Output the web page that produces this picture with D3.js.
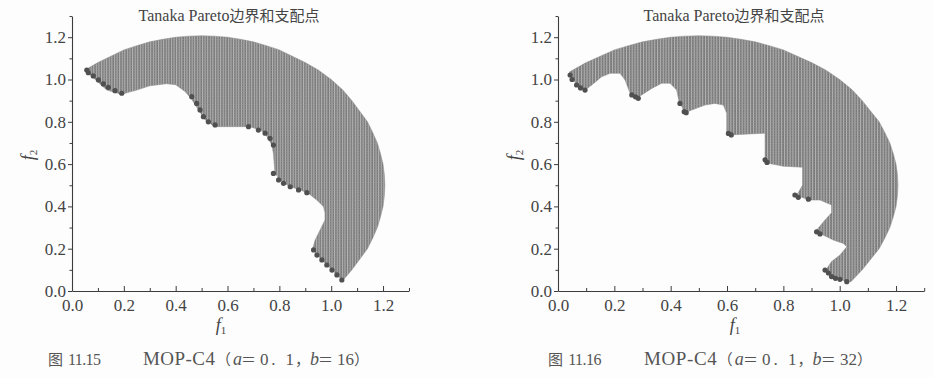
<!DOCTYPE html>
<html>
<head>
<meta charset="utf-8">
<script src="https://cdn.jsdelivr.net/npm/d3@7"></script>
<style>
  html, body { margin: 0; padding: 0; background: #fdfdfd; }
  svg { display: block; }
</style>
</head>
<body>
<svg id="chart" width="934" height="378"></svg>
<script>
// ---------- data ----------
const majorTicks = [0, 0.2, 0.4, 0.6, 0.8, 1.0, 1.2];
const minorTicks = [0.1, 0.3, 0.5, 0.7, 0.9, 1.1, 1.3];
const tickLabels = ["0.0", "0.2", "0.4", "0.6", "0.8", "1.0", "1.2"];

const titleLatin = "Tanaka Pareto";
const titleCJK = "边界和支配点";
const captionLeft = ["图", "11.15", "MOP-C4", "（", "a", "＝", "0. 1", "，", "b", "＝", "16", "）"];
const captionRight = ["图", "11.16", "MOP-C4", "（", "a", "＝", "0. 1", "，", "b", "＝", "32", "）"];

// outer edge of the feasible region (top-left tip, clockwise, to bottom tip)
const outerLeft = [
  [0.05,1.045],[0.1,1.08],[0.15,1.11],[0.2,1.14],[0.25,1.16],[0.3,1.178],[0.35,1.19],
  [0.4,1.2],[0.45,1.205],[0.5,1.207],[0.55,1.205],[0.6,1.2],[0.65,1.19],[0.7,1.178],
  [0.75,1.16],[0.8,1.14],[0.85,1.11],[0.9,1.08],[0.95,1.045],[1.0,1.0],[1.045,0.95],
  [1.08,0.9],[1.11,0.85],[1.14,0.8],[1.16,0.75],[1.178,0.7],[1.19,0.65],[1.2,0.6],
  [1.205,0.55],[1.207,0.5],[1.205,0.45],[1.2,0.4],[1.19,0.35],[1.178,0.3],[1.16,0.25],
  [1.14,0.2],[1.11,0.15],[1.08,0.1],[1.045,0.05]
];
// inner edge, b = 16 (bottom tip back to top-left tip)
const innerLeft = [
  [1.041,0.052],[1.022,0.076],[1.003,0.099],[0.983,0.123],[0.964,0.147],[0.945,0.17],
  [0.932,0.194],[0.929,0.202],[0.938,0.241],[0.957,0.288],[0.976,0.336],[0.976,0.37],
  [0.97,0.399],[0.944,0.43],[0.912,0.462],[0.88,0.478],[0.84,0.494],[0.81,0.517],
  [0.783,0.556],[0.777,0.651],[0.771,0.69],[0.745,0.746],[0.726,0.761],[0.687,0.777],
  [0.55,0.777],[0.513,0.81],[0.488,0.856],[0.46,0.91],[0.436,0.943],[0.40,0.975],
  [0.365,0.98],[0.30,0.97],[0.25,0.95],[0.19,0.93],[0.134,0.95],[0.05,1.045]
];
const paretoLeft = [
  [0.057,1.045],[0.063,1.032],[0.082,1.017],[0.102,0.998],[0.121,0.979],[0.14,0.963],
  [0.166,0.947],[0.192,0.935],
  [0.462,0.919],[0.481,0.887],[0.494,0.856],[0.507,0.824],[0.526,0.8],[0.552,0.785],
  [0.681,0.777],[0.719,0.761],[0.745,0.746],[0.764,0.722],[0.777,0.69],
  [0.777,0.556],[0.797,0.525],[0.816,0.509],[0.842,0.493],[0.874,0.478],[0.906,0.465],
  [0.932,0.194],[0.945,0.170],[0.964,0.147],[0.983,0.123],[1.003,0.099],[1.022,0.076],
  [1.041,0.052]
];

const outerRight = [
  [0.04,1.035],[0.1,1.08],[0.15,1.11],[0.2,1.14],[0.25,1.16],[0.3,1.178],[0.35,1.19],
  [0.4,1.2],[0.45,1.205],[0.5,1.207],[0.55,1.205],[0.6,1.2],[0.65,1.19],[0.7,1.178],
  [0.75,1.16],[0.8,1.14],[0.85,1.11],[0.9,1.08],[0.95,1.045],[1.0,1.0],[1.045,0.95],
  [1.08,0.9],[1.11,0.85],[1.14,0.8],[1.16,0.75],[1.178,0.7],[1.19,0.65],[1.2,0.6],
  [1.205,0.55],[1.207,0.5],[1.205,0.45],[1.2,0.4],[1.19,0.35],[1.178,0.3],[1.16,0.25],
  [1.14,0.2],[1.11,0.15],[1.08,0.1],[1.04,0.044]
];
// inner edge, b = 32 (bottom tip back to top-left tip)
const innerRight = [
  [1.025,0.044],[1.001,0.055],[0.985,0.06],[0.965,0.076],[0.951,0.099],[0.971,0.139],
  [1.001,0.17],[1.025,0.209],[1.013,0.225],[0.977,0.241],[0.941,0.265],[0.924,0.273],
  [0.918,0.288],[0.948,0.336],[0.971,0.37],[0.971,0.407],[0.93,0.43],[0.889,0.43],
  [0.847,0.454],[0.855,0.47],[0.868,0.5],[0.868,0.585],[0.80,0.59],[0.76,0.6],
  [0.735,0.608],[0.735,0.746],[0.611,0.738],[0.599,0.746],[0.599,0.84],[0.587,0.879],
  [0.557,0.887],[0.522,0.879],[0.475,0.856],[0.451,0.843],[0.43,0.895],[0.421,0.95],
  [0.398,0.982],[0.368,0.982],[0.333,0.958],[0.297,0.927],[0.279,0.911],[0.256,0.935],
  [0.238,0.998],[0.22,1.029],[0.185,1.029],[0.155,1.013],[0.12,0.974],[0.096,0.95],
  [0.066,0.974],[0.04,1.035]
];
const paretoRight = [
  [0.043,1.021],[0.05,1.0],[0.066,0.974],[0.08,0.96],[0.096,0.95],
  [0.262,0.927],[0.275,0.918],[0.285,0.911],
  [0.433,0.887],[0.448,0.848],[0.455,0.843],
  [0.605,0.745],[0.615,0.738],
  [0.735,0.62],[0.742,0.608],
  [0.841,0.454],[0.853,0.443],[0.889,0.434],
  [0.918,0.28],[0.93,0.27],
  [0.948,0.099],[0.96,0.085],[0.971,0.068],[0.985,0.06],[1.001,0.055],[1.025,0.044]
];

// ---------- drawing ----------
const svg = d3.select("#chart");
const defs = svg.append("defs");

function makePattern(id, w) {
  const h = 2.6;
  const p = defs.append("pattern").attr("id", id)
    .attr("patternUnits", "userSpaceOnUse").attr("width", w).attr("height", h);
  p.append("rect").attr("width", w).attr("height", h).attr("fill", "#767676");
  p.append("rect").attr("x", 0).attr("width", 1.05).attr("height", h).attr("fill", "#b8b8b8");
  p.append("rect").attr("y", 0).attr("width", w).attr("height", 0.8).attr("fill", "#9a9a9a").attr("opacity", 0.6);
}
makePattern("gridL", 2.59);
makePattern("gridR", 2.82);

const serif = '"Liberation Serif", Tinos, "Times New Roman", Times, "Nimbus Roman", "DejaVu Serif", serif';
const cjk = '"Noto Sans CJK SC", "Noto Sans CJK JP", sans-serif';
const ink = "#3c3c3c";

// caption layout: [start offset, width, font kind, italic, size]
const capLayout = [
  [0, 15, "cjk", false, 15], [20, 33, "serif", false, 16], [95, 72, "serif", false, 19],
  [168, 16, "cjk", false, 15], [185, 7, "serif", true, 18], [193, 15, "cjk", false, 15],
  [212, 34, "serif", false, 17], [247, 16, "cjk", false, 15], [262, 7, "serif", true, 18],
  [270, 15, "cjk", false, 15], [289, 17, "serif", false, 17], [306, 16, "cjk", false, 15]
];

function panel(cfg) {
  const x = d3.scaleLinear().domain([0, 1.3]).range([cfg.x0, cfg.x0 + 1.3 * cfg.xu]);
  const y = d3.scaleLinear().domain([0, 1.3]).range([291, 291 - 1.3 * 211.5]);
  const g = svg.append("g");

  // feasible region
  const poly = cfg.outer.concat(cfg.inner);
  const line = d3.line().x(d => x(d[0])).y(d => y(d[1])).curve(d3.curveLinearClosed);
  g.append("path").attr("d", line(poly)).attr("fill", `url(#${cfg.pat})`)
    .attr("stroke", "#8a8a8a").attr("stroke-width", 0.5);

  // pareto points
  g.selectAll("circle.p").data(cfg.pareto).join("circle").attr("class", "p")
    .attr("cx", d => x(d[0])).attr("cy", d => y(d[1])).attr("r", 2.6)
    .attr("fill", "#505050");

  // axes
  const fmt = d => tickLabels[majorTicks.indexOf(d)];
  g.append("g").attr("transform", "translate(0,291)")
    .call(d3.axisBottom(x).tickValues(majorTicks).tickFormat(fmt).tickSize(-5).tickSizeOuter(0).tickPadding(8));
  g.append("g").attr("transform", "translate(0,291)")
    .call(d3.axisBottom(x).tickValues(minorTicks).tickFormat("").tickSize(-3).tickSizeOuter(0))
    .select(".domain").remove();
  g.append("g").attr("transform", `translate(${cfg.x0},0)`)
    .call(d3.axisLeft(y).tickValues(majorTicks).tickFormat(fmt).tickSize(4).tickSizeOuter(0).tickPadding(2));
  g.append("g").attr("transform", `translate(${cfg.x0},0)`)
    .call(d3.axisLeft(y).tickValues(minorTicks).tickFormat("").tickSize(2.5).tickSizeOuter(0))
    .select(".domain").remove();
  g.selectAll("g").attr("font-family", serif);
  g.selectAll(".domain").attr("stroke", ink).attr("stroke-width", 1.1);
  g.selectAll(".tick line").attr("stroke", ink).attr("stroke-width", 1);
  g.selectAll(".tick text").attr("fill", "#444").attr("font-size", 17)
    .style("font-family", serif);

  // axis titles
  const xl = g.append("text").attr("x", cfg.fx).attr("y", 331)
    .attr("font-size", 18).attr("fill", "#444").attr("text-anchor", "middle")
    .style("font-family", serif);
  xl.append("tspan").attr("font-style", "italic").text("f");
  xl.append("tspan").attr("font-size", 11).attr("dy", 3).text("1");
  const yl = g.append("text").attr("transform", `translate(${cfg.x0 - 38},155) rotate(-90)`)
    .attr("font-size", 18).attr("fill", "#444").attr("text-anchor", "middle")
    .style("font-family", serif);
  yl.append("tspan").attr("font-style", "italic").text("f");
  yl.append("tspan").attr("font-size", 11).attr("dy", 3).text("2");

  // title
  const t = g.append("text").attr("x", cfg.tx).attr("y", 21).attr("text-anchor", "middle")
    .attr("font-size", 16).attr("fill", "#444");
  t.append("tspan").style("font-family", serif).text(titleLatin);
  t.append("tspan").style("font-family", cjk).attr("font-size", 15).text(titleCJK);

  // caption
  const cap = g.append("g").attr("fill", "#555");
  cfg.caption.forEach((s, i) => {
    const [off, w, kind, it, size] = capLayout[i];
    const isCjk = kind === "cjk";
    const txt = cap.append("text")
      .attr("x", cfg.cx + off * cfg.cs).attr("y", 365)
      .attr("font-size", size)
      .attr("font-style", it ? "italic" : null)
      .style("font-family", isCjk ? cjk : serif)
      .text(s);
    if (!isCjk && s.length > 1) txt.attr("textLength", w * cfg.cs).attr("lengthAdjust", "spacing");
  });
}

panel({x0: 72, xu: 259.2, outer: outerLeft, inner: innerLeft, pareto: paretoLeft, pat: "gridL",
       fx: 221, tx: 229, cx: 48, cs: 1.0, caption: captionLeft});
panel({x0: 558, xu: 281.7, outer: outerRight, inner: innerRight, pareto: paretoRight, pat: "gridR",
       fx: 735, tx: 734, cx: 548, cs: 1.01, caption: captionRight});
</script>
</body>
</html>
